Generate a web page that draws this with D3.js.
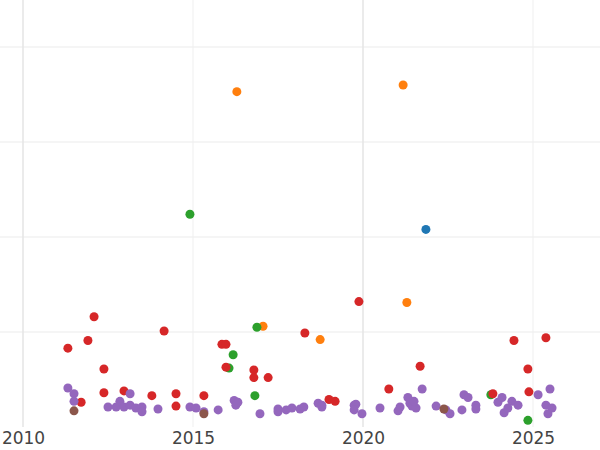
<!DOCTYPE html>
<html><head><meta charset="utf-8">
<script src="https://cdn.jsdelivr.net/npm/d3@7"></script>
<style>body{margin:0;background:#fff}</style>
</head><body><svg id="chart"></svg>
<script>
// tick labels
const xTicks = [2010, 2015, 2020, 2025]
const yGrid = [1, 2, 3, 4]

// series: [year, value]
const blue = [[2021.85, 2.08]]
const orange = [[2016.29, 3.53], [2021.18, 3.6], [2017.06, 1.06], [2018.74, 0.92], [2021.29, 1.31]]
const green = [[2014.91, 2.24], [2016.88, 1.05], [2016.18, 0.76], [2016.06, 0.62], [2016.82, 0.33], [2023.76, 0.34], [2024.85, 0.07]]
const red = [[2011.32, 0.83], [2012.09, 1.16], [2011.91, 0.91], [2012.38, 0.61], [2011.71, 0.26], [2012.38, 0.36],
  [2012.97, 0.38], [2013.79, 0.33], [2014.15, 1.01], [2014.5, 0.35], [2014.5, 0.22], [2015.32, 0.33], [2015.85, 0.87],
  [2015.97, 0.87], [2015.97, 0.63], [2016.79, 0.60], [2016.79, 0.52], [2017.21, 0.52], [2018.29, 0.99], [2019.0, 0.29],
  [2019.18, 0.27], [2019.88, 1.32], [2020.76, 0.4], [2021.68, 0.64], [2023.82, 0.35], [2024.44, 0.91], [2024.85, 0.61],
  [2024.88, 0.37], [2025.38, 0.94]]
const purple = [[2011.32, 0.41], [2011.5, 0.35], [2011.5, 0.27], [2012.5, 0.21], [2012.74, 0.21], [2012.85, 0.27],
  [2012.97, 0.21], [2013.15, 0.23], [2013.15, 0.35], [2013.32, 0.2], [2013.5, 0.21], [2013.5, 0.16], [2013.97, 0.19],
  [2014.91, 0.21], [2015.09, 0.2], [2015.32, 0.16], [2015.74, 0.18], [2016.21, 0.28], [2016.26, 0.23], [2016.32, 0.26],
  [2016.97, 0.14], [2017.5, 0.19], [2017.5, 0.16], [2017.74, 0.18], [2017.91, 0.2], [2018.15, 0.19], [2018.26, 0.21],
  [2018.68, 0.25], [2018.79, 0.23], [2018.79, 0.21], [2019.74, 0.23], [2019.79, 0.24], [2019.74, 0.18], [2019.97, 0.14],
  [2020.5, 0.2], [2021.03, 0.17], [2021.09, 0.21], [2021.32, 0.31], [2021.38, 0.25], [2021.44, 0.22], [2021.56, 0.2],
  [2021.5, 0.27], [2021.74, 0.4], [2022.15, 0.22], [2022.44, 0.18], [2022.56, 0.14], [2022.91, 0.18], [2022.97, 0.34],
  [2023.09, 0.31], [2023.32, 0.23], [2023.32, 0.19], [2023.97, 0.26], [2024.09, 0.31], [2024.15, 0.15], [2024.38, 0.27],
  [2024.26, 0.2], [2024.56, 0.23], [2025.15, 0.34], [2025.38, 0.23], [2025.44, 0.14], [2025.56, 0.2], [2025.5, 0.4]]
const brown = [[2011.5, 0.17], [2015.32, 0.14], [2022.38, 0.19]]

const series = [
  { pts: blue, color: "#1f77b4" },
  { pts: orange, color: "#ff7f0e" },
  { pts: green, color: "#2ca02c" },
  { pts: red, color: "#d62728" },
  { pts: purple, color: "#9467bd" },
  { pts: brown, color: "#8c564b" }
]

const width = 600, height = 450

const svg = d3.select("#chart").attr("width", width).attr("height", height)

const x = d3.scaleLinear().domain([2010, 2020]).range([23, 363])
const y = d3.scaleLinear().domain([0, 4]).range([427, 47])

// Grid lines
svg.append("g").selectAll("line").data(yGrid).join("line")
  .attr("x1", 0).attr("x2", width)
  .attr("y1", d => y(d)).attr("y2", d => y(d))
  .attr("stroke", "#ebebeb").attr("stroke-width", 1)

svg.append("g").selectAll("line").data(xTicks).join("line")
  .attr("x1", d => x(d)).attr("x2", d => x(d))
  .attr("y1", 0).attr("y2", 427)
  .attr("stroke", d => d % 10 === 0 ? "#e6e6e6" : "#efefef")
  .attr("stroke-width", d => d % 10 === 0 ? 1.6 : 1)

// X axis labels
svg.append("g")
  .attr("transform", `translate(0, 427)`)
  .call(d3.axisBottom(x).tickValues(xTicks).tickFormat(d3.format("d")).tickSize(0).tickPadding(5))
  .call(g => g.select(".domain").remove())
  .call(g => g.selectAll(".tick text")
    .attr("font-family", "DejaVu Sans")
    .attr("font-size", 17)
    .attr("fill", "#444"))

// Points
series.forEach(s => {
  svg.append("g").selectAll("circle").data(s.pts).join("circle")
    .attr("cx", d => x(d[0]))
    .attr("cy", d => y(d[1]))
    .attr("r", 4.5)
    .attr("fill", s.color)
})
</script>
</body></html>
